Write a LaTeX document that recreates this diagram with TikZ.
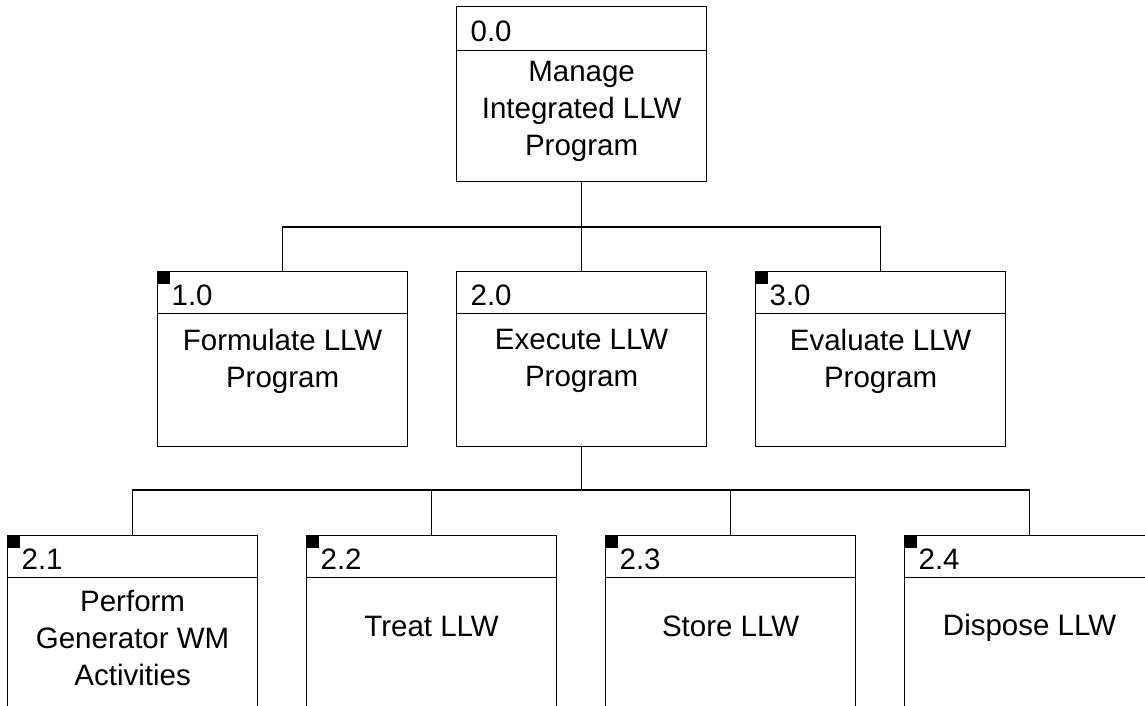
\documentclass[tikz,border=0pt]{standalone}
\usepackage{fontspec}
\setmainfont{Liberation Sans}
\usetikzlibrary{positioning}

\begin{document}
\begin{tikzpicture}[x=0.5pt,y=-0.5pt,line width=0.6pt]
        \tikzstyle{func}=[draw,rectangle,anchor=north west,inner sep=0pt,minimum width=125pt,minimum height=87.5pt]
        \tikzstyle{head}=[draw,rectangle,anchor=north west,inner sep=0pt,inner xsep=7pt,text width=111pt,text height=13pt,align=left,minimum height=21pt,font=\fontsize{14.75pt}{18.5pt}\selectfont]
        \tikzstyle{body}=[align=center,inner sep=0pt,yshift=-23.5pt,font=\fontsize{14.75pt}{18.5pt}\selectfont]
        \tikzstyle{tag}=[fill=black]

        \useasboundingbox (0,0) rectangle (1145,706);
        \clip (0,0) rectangle (1145,706);

        % top level
        \node[func] (b00) at (456,6) {};
        \node[head,minimum height=22pt] (h00) at (b00.north west) {0.0};
        \node[body,yshift=-6.5pt] (t00) at (h00.south) {Manage\\Integrated LLW\\Program};

        % second level
        \node[func] (b10) at (157,271) {};
        \node[head] (h10) at (b10.north west) {1.0};
        \node[body] (t10) at (h10.south) {Formulate LLW\\Program};

        \node[func] (b20) at (456,271) {};
        \node[head] (h20) at (b20.north west) {2.0};
        \node[body] (t20) at (h20.south) {Execute LLW\\Program};

        \node[func] (b30) at (755,271) {};
        \node[head] (h30) at (b30.north west) {3.0};
        \node[body] (t30) at (h30.south) {Evaluate LLW\\Program};

        % third level
        \node[func] (b21) at (7,535) {};
        \node[head] (h21) at (b21.north west) {2.1};
        \node[body,yshift=-6.5pt] (t21) at (h21.south) {Perform\\Generator WM\\Activities};

        \node[func] (b22) at (306,535) {};
        \node[head] (h22) at (b22.north west) {2.2};
        \node[body,yshift=-0.5pt] (t22) at (h22.south) {Treat LLW};

        \node[func] (b23) at (605,535) {};
        \node[head] (h23) at (b23.north west) {2.3};
        \node[body,yshift=-0.5pt] (t23) at (h23.south) {Store LLW};

        \node[func] (b24) at (904,535) {};
        \node[head] (h24) at (b24.north west) {2.4};
        \node[body,yshift=-1.5pt] (t24) at (h24.south) {Dispose LLW};

        % little black corner marks
        \foreach \b in {b10,b30,b21,b22,b23,b24}
            \fill[tag] (\b.north west) rectangle ++(13,13);

        % connectors
        \coordinate (bus1) at (0,227);
        \coordinate (bus2) at (0,490);

        \draw (b00.south) -- (b00.south |- bus1);
        \draw (b10.north) |- (bus1 -| b30.north) -- (b30.north);
        \draw (b20.north) -- (b20.north |- bus1);

        \draw (b20.south) -- (b20.south |- bus2);
        \draw (b21.north) |- (bus2 -| b24.north) -- (b24.north);
        \draw (b22.north) -- (b22.north |- bus2);
        \draw (b23.north) -- (b23.north |- bus2);

\end{tikzpicture}
\end{document}
